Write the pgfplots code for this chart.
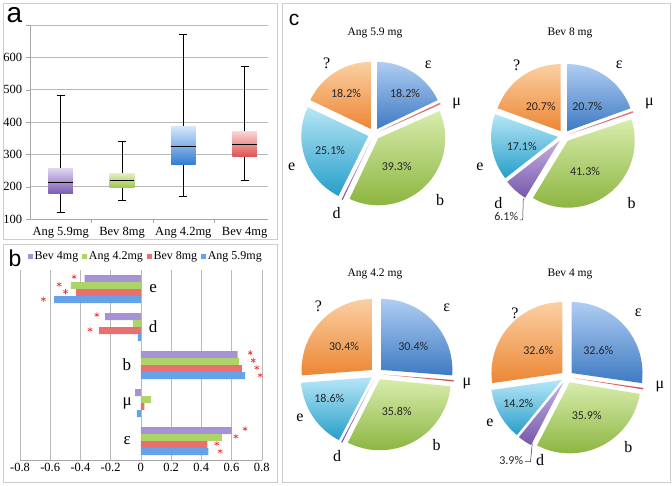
\documentclass[border=0pt]{standalone}
\usepackage{fontspec}
\setmainfont{Liberation Serif}
\newfontfamily\lsans{Liberation Sans}
\newfontfamily\carl{Carlito}
\usepackage{pgfplots}
\pgfplotsset{compat=1.18}
\newcommand{\fs}[1]{\fontsize{#1}{#1}\selectfont}
% box colours
\definecolor{bxPT}{RGB}{222,212,242}\definecolor{bxPB}{RGB}{125,92,180}
\definecolor{bxGT}{RGB}{226,240,188}\definecolor{bxGB}{RGB}{158,198,78}
\definecolor{bxBT}{RGB}{210,230,250}\definecolor{bxBB}{RGB}{52,125,210}
\definecolor{bxRT}{RGB}{250,212,212}\definecolor{bxRB}{RGB}{222,80,80}
% bar colours
\definecolor{brP}{RGB}{168,146,214}\definecolor{brG}{RGB}{172,212,102}
\definecolor{brR}{RGB}{234,112,112}\definecolor{brB}{RGB}{102,162,234}
\definecolor{star}{RGB}{232,55,55}
% pie colours
\definecolor{peT}{RGB}{175,205,242}\definecolor{peB}{RGB}{62,122,195}
\definecolor{pmT}{RGB}{232,120,120}\definecolor{pmB}{RGB}{200,80,80}
\definecolor{pbT}{RGB}{216,236,172}\definecolor{pbB}{RGB}{138,180,62}
\definecolor{pdT}{RGB}{196,176,228}\definecolor{pdB}{RGB}{118,88,170}
\definecolor{pcT}{RGB}{182,230,247}\definecolor{pcB}{RGB}{38,158,200}
\definecolor{pqT}{RGB}{251,208,163}\definecolor{pqB}{RGB}{236,134,52}
\definecolor{frame}{RGB}{205,205,205}
\definecolor{gridc}{RGB}{185,185,185}

\newcommand{\pieslice}[7]{%
  \pgfmathsetmacro\pmid{(#4+#5)/2}%
  \pgfmathsetmacro\pax{#1+6*cos(\pmid)}%
  \pgfmathsetmacro\pay{#2+6*sin(\pmid)}%
  \pgfmathsetmacro\psx{\pax+#3*cos(#4)}%
  \pgfmathsetmacro\psy{\pay+#3*sin(#4)}%
  \path[top color=#6, bottom color=#7] (axis cs:\pax,\pay) -- (axis cs:\psx,\psy) arc[start angle=#4, end angle=#5, radius=#3pt] -- cycle;%
}
% centre x, centre y, radius, then values: epsilon, mu, b, d, e, ?
\newcommand{\drawpie}[9]{%
  \pgfmathsetmacro\ptot{#4+#5+#6+#7+#8+#9}%
  \pgfmathsetmacro\pA{90}%
  \pgfmathsetmacro\pB{\pA-360*#4/\ptot}%
  \pgfmathsetmacro\pC{\pB-360*#5/\ptot}%
  \pgfmathsetmacro\pD{\pC-360*#6/\ptot}%
  \pgfmathsetmacro\pE{\pD-360*#7/\ptot}%
  \pgfmathsetmacro\pF{\pE-360*#8/\ptot}%
  \pieslice{#1}{#2}{#3}{\pA}{\pB}{peT}{peB}%
  \pieslice{#1}{#2}{#3}{\pB}{\pC}{pmT}{pmB}%
  \pieslice{#1}{#2}{#3}{\pC}{\pD}{pbT}{pbB}%
  \pieslice{#1}{#2}{#3}{\pD}{\pE}{pdT}{pdB}%
  \pieslice{#1}{#2}{#3}{\pE}{\pF}{pcT}{pcB}%
  \pieslice{#1}{#2}{#3}{\pF}{-270}{pqT}{pqB}%
}
\pgfplotsset{
  mybar/.style={xbar, bar width=7pt, draw=none,
    legend image code/.code={\fill[##1] (0pt,-2.3pt) rectangle (4.6pt,2.3pt);}},
}

\begin{document}
\begin{tikzpicture}
\useasboundingbox (0pt,0pt) rectangle (672pt,485pt);
\fill[white] (0pt,0pt) rectangle (672pt,485pt);
\draw[frame] (3pt,246pt) rectangle (277pt,482pt);
\draw[frame] (3pt,3pt) rectangle (277pt,241pt);
\draw[frame] (282pt,3pt) rectangle (670pt,482pt);

% ---------------- panel a ----------------
\begin{axis}[at={(30pt,266pt)}, anchor=south west, scale only axis,
  width=238pt, height=194pt,
  xmin=0.5, xmax=4.38, ymin=100, ymax=700,
  axis x line*=bottom, axis y line*=left, axis line style={draw=gray!70,-},
  ytick={100,200,300,400,500,600,700},
  yticklabels={100,200,300,400,500,600,{}},
  ymajorgrids, grid style={gridc},
  xtick={1,2,3,4},
  xticklabels={Ang 5.9mg,Bev 8mg,Ang 4.2mg,Bev 4mg},
  minor xtick={1.5,2.5,3.5},
  major x tick style={draw=none},
  minor x tick style={draw=gray!70},
  minor tick length=4pt,
  y tick style={draw=gray!70},
  tick align=outside,
  ticklabel style={font=\fs{12.5}},
]
% whiskers with caps (lower whisker, upper whisker)
\addplot[black, line width=0.7pt, unbounded coords=jump] coordinates {
  (1,120) (1,482) (1,nan) (0.935,120) (1.065,120) (1,nan) (0.935,482) (1.065,482) (1,nan)
  (2,159) (2,339) (2,nan) (1.935,159) (2.065,159) (2,nan) (1.935,339) (2.065,339) (2,nan)
  (3,169) (3,670) (3,nan) (2.935,169) (3.065,169) (3,nan) (2.935,670) (3.065,670) (3,nan)
  (4,220) (4,572) (4,nan) (3.935,220) (4.065,220) (4,nan) (3.935,572) (4.065,572)};
% boxes: lower quartile to upper quartile
\addplot[draw=none, top color=bxPT, bottom color=bxPB] coordinates {(0.8,179) (1.2,179) (1.2,256) (0.8,256)} -- cycle;
\addplot[draw=none, top color=bxGT, bottom color=bxGB] coordinates {(1.8,197) (2.2,197) (2.2,241) (1.8,241)} -- cycle;
\addplot[draw=none, top color=bxBT, bottom color=bxBB] coordinates {(2.8,269) (3.2,269) (3.2,385) (2.8,385)} -- cycle;
\addplot[draw=none, top color=bxRT, bottom color=bxRB] coordinates {(3.8,292) (4.2,292) (4.2,370) (3.8,370)} -- cycle;
% medians
\addplot[black, line width=0.7pt, unbounded coords=jump] coordinates {
  (0.8,213) (1.2,213) (1,nan) (1.8,219) (2.2,219) (2,nan)
  (2.8,325) (3.2,325) (3,nan) (3.8,330) (4.2,330)};
\end{axis}

% ---------------- panel b ----------------
\begin{axis}[at={(20pt,25pt)}, anchor=south west, scale only axis,
  width=241.7pt, height=190pt,
  xmin=-0.8, xmax=0.8, ymin=-0.5, ymax=4.5,
  axis x line*=bottom, axis y line=none, axis line style={draw=gray!70,-},
  xtick={-0.8,-0.6,-0.4,-0.2,0,0.2,0.4,0.6,0.8},
  xticklabels={-0.8,-0.6,-0.4,-0.2,0,0.2,0.4,0.6,0.8},
  xmajorgrids, grid style={gridc}, x tick style={draw=none},
  ytick=\empty, clip=false,
  ticklabel style={font=\fs{12.5}},
  legend columns=4,
  legend style={at={(axis description cs:0.521,1.035)}, anchor=south, draw=none, fill=none,
    font=\fs{12}, inner sep=0pt,
    /tikz/every even column/.append style={column sep=2pt}},
]
\addplot[mybar, bar shift=10.5pt, fill=brP] coordinates {(0.602,0) (-0.038,1) (0.640,2) (-0.236,3) (-0.373,4)};
\addplot[mybar, bar shift=3.5pt, fill=brG] coordinates {(0.536,0) (0.066,1) (0.651,2) (-0.053,3) (-0.463,4)};
\addplot[mybar, bar shift=-3.5pt, fill=brR] coordinates {(0.441,0) (0.024,1) (0.668,2) (-0.276,3) (-0.428,4)};
\addplot[mybar, bar shift=-10.5pt, fill=brB] coordinates {(0.447,0) (-0.026,1) (0.690,2) (-0.020,3) (-0.574,4)};
\legend{Bev 4mg,Ang 4.2mg,Bev 8mg,Ang 5.9mg}
\addplot[only marks, mark=asterisk, mark size=2.6pt, star, line width=0.6pt, forget plot] coordinates {
  (-0.442,4.32) (-0.541,4.12) (-0.499,3.93) (-0.645,3.73)
  (-0.291,3.32) (-0.336,2.93)
  (0.724,2.32) (0.744,2.12) (0.768,1.93) (0.790,1.73)
  (0.690,0.32) (0.629,0.12) (0.503,-0.07) (0.525,-0.27)};
\node[font=\fs{17}, inner sep=0pt] at (axis cs:0.081,4) {e};
\node[font=\fs{17}, inner sep=0pt] at (axis cs:0.081,3) {d};
\node[font=\fs{17}, inner sep=0pt] at (axis cs:-0.093,2) {b};
\node[font=\fs{17}, inner sep=0pt] at (axis cs:-0.09,1) {μ};
\node[font=\fs{17}, inner sep=0pt] at (axis cs:-0.09,0) {ε};
\end{axis}

% ---------------- panel c ----------------
\begin{axis}[at={(282pt,3pt)}, anchor=south west, x=1pt, y=1pt,
  xmin=282, xmax=670, ymin=3, ymax=482, hide axis, clip=false]
\pgfplotsextra{%
  \drawpie{374}{351}{67}{18.2}{0.4}{39.3}{0.3}{25.1}{18.2}%
  \drawpie{564}{349}{67}{20.7}{0.4}{41.3}{6.1}{17.1}{20.7}%
  \drawpie{377}{111}{71}{30.4}{0.4}{35.8}{0.3}{18.6}{30.4}%
  \drawpie{567}{108}{71}{32.6}{0.4}{35.9}{3.9}{14.2}{32.6}%
}
\end{axis}

% panel letters
\node[font={\lsans\fs{28}}, inner sep=0pt] at (14.5pt,470pt) {a};
\node[font={\lsans\fs{23}}, inner sep=0pt] at (15pt,226.7pt) {b};
\node[font={\lsans\fs{21}}, inner sep=0pt] at (294pt,465.5pt) {c};

% pie titles
\node[font=\fs{11.5}] at (375pt,452pt) {Ang 5.9 mg};
\node[font=\fs{11.5}] at (570pt,452pt) {Bev 8 mg};
\node[font=\fs{11.5}] at (375pt,211pt) {Ang 4.2 mg};
\node[font=\fs{11.5}] at (570pt,211pt) {Bev 4 mg};

\begin{scope}[every node/.style={font=\fs{16}, inner sep=0pt}]
% Ang 5.9
\node at (326.7pt,421.7pt) {?};
\node at (428.3pt,420pt) {ε};
\node at (456.7pt,381.7pt) {μ};
\node at (291.7pt,318.3pt) {e};
\node at (336.7pt,271.7pt) {d};
\node at (440pt,285pt) {b};
% Bev 8
\node at (516.7pt,420pt) {?};
\node at (619.3pt,420pt) {ε};
\node at (649.3pt,381.7pt) {μ};
\node at (480pt,318.3pt) {e};
\node at (498.3pt,281.7pt) {d};
\node at (631.7pt,281.7pt) {b};
% Ang 4.2
\node at (318.3pt,178.3pt) {?};
\node at (446.7pt,176.7pt) {ε};
\node at (467pt,101.7pt) {μ};
\node at (300pt,66.7pt) {e};
\node at (337pt,29pt) {d};
\node at (436.7pt,40pt) {b};
% Bev 4
\node at (515pt,171.7pt) {?};
\node at (638.3pt,171.7pt) {ε};
\node at (660pt,98.3pt) {μ};
\node at (490pt,61.7pt) {e};
\node at (540pt,25pt) {d};
\node at (628.3pt,38.3pt) {b};
\end{scope}

\begin{scope}[every node/.style={font={\carl\fs{12}}, inner sep=0pt, text=black!85}]
\node at (346pt,391.7pt) {18.2\%};
\node at (405pt,391.7pt) {18.2\%};
\node at (330pt,335pt) {25.1\%};
\node at (396.7pt,318.3pt) {39.3\%};
\node at (540.7pt,378.3pt) {20.7\%};
\node at (587.3pt,378.3pt) {20.7\%};
\node at (521.7pt,338.3pt) {17.1\%};
\node at (585pt,313.3pt) {41.3\%};
\node[anchor=east] at (518.3pt,268.3pt) {6.1\%};
\node at (344pt,138.3pt) {30.4\%};
\node at (413.3pt,138.3pt) {30.4\%};
\node at (329.3pt,86.7pt) {18.6\%};
\node at (396.7pt,73.3pt) {35.8\%};
\node at (538.3pt,135pt) {32.6\%};
\node at (598.3pt,135pt) {32.6\%};
\node at (518.3pt,81.7pt) {14.2\%};
\node at (586.7pt,70pt) {35.9\%};
\node[anchor=east] at (523.3pt,25pt) {3.9\%};
\end{scope}
\draw[black!80, line width=0.5pt] (523.3pt,286.7pt) -- (522.7pt,265pt) -- (519.5pt,265pt);
\draw[black!80, line width=0.5pt] (532.3pt,41.7pt) -- (530.5pt,23.3pt) -- (525pt,23.3pt);
\end{tikzpicture}
\end{document}
